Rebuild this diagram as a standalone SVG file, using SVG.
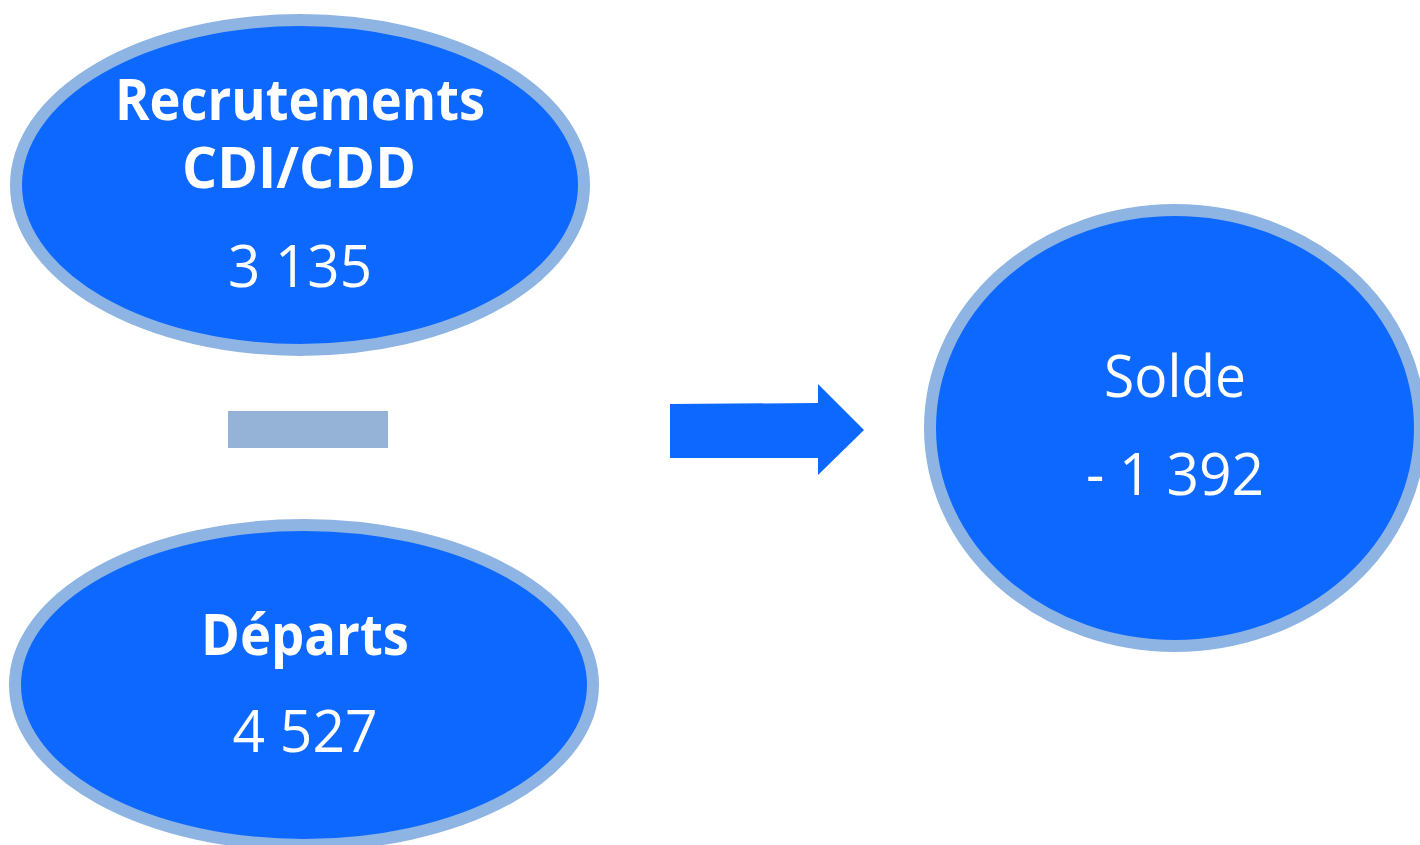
<svg xmlns="http://www.w3.org/2000/svg" width="1420" height="845" viewBox="0 0 1420 845">
  <style>
    .node { fill: #0D68FF; stroke: #8EB4E3; stroke-width: 12; }
    .t { fill: #FFFFFF; font-family: "Open Sans", "Noto Sans", "Liberation Sans", sans-serif; font-size: 58px; text-anchor: middle; }
    .b { font-weight: bold; }
  </style>
  <rect width="1420" height="845" fill="#FFFFFF"/>
  <g id="recrutements">
    <ellipse class="node" cx="300" cy="185" rx="284" ry="165"/>
    <text class="t b" x="300" y="120" textLength="370" lengthAdjust="spacingAndGlyphs">Recrutements</text>
    <text class="t b" x="299" y="188" textLength="234" lengthAdjust="spacingAndGlyphs">CDI/CDD</text>
    <text class="t" x="300" y="287" textLength="144" lengthAdjust="spacingAndGlyphs">3 135</text>
  </g>
  <g id="minus">
    <rect x="228" y="411" width="160" height="37" fill="#95B3D7"/>
  </g>
  <g id="departs">
    <ellipse class="node" cx="304" cy="685" rx="289" ry="160"/>
    <text class="t b" x="305" y="655" textLength="208" lengthAdjust="spacingAndGlyphs">Départs</text>
    <text class="t" x="305" y="752" textLength="145" lengthAdjust="spacingAndGlyphs">4 527</text>
  </g>
  <g id="connectors">
    <polygon points="670,404 818,403 818,384 864,430 818,475 818,458 670,458" fill="#0D68FF"/>
  </g>
  <g id="solde">
    <ellipse class="node" cx="1175" cy="428" rx="245" ry="218"/>
    <text class="t" x="1175" y="397" textLength="142" lengthAdjust="spacingAndGlyphs">Solde</text>
    <text class="t" x="1175" y="495" textLength="178" lengthAdjust="spacingAndGlyphs">- 1 392</text>
  </g>
</svg>
